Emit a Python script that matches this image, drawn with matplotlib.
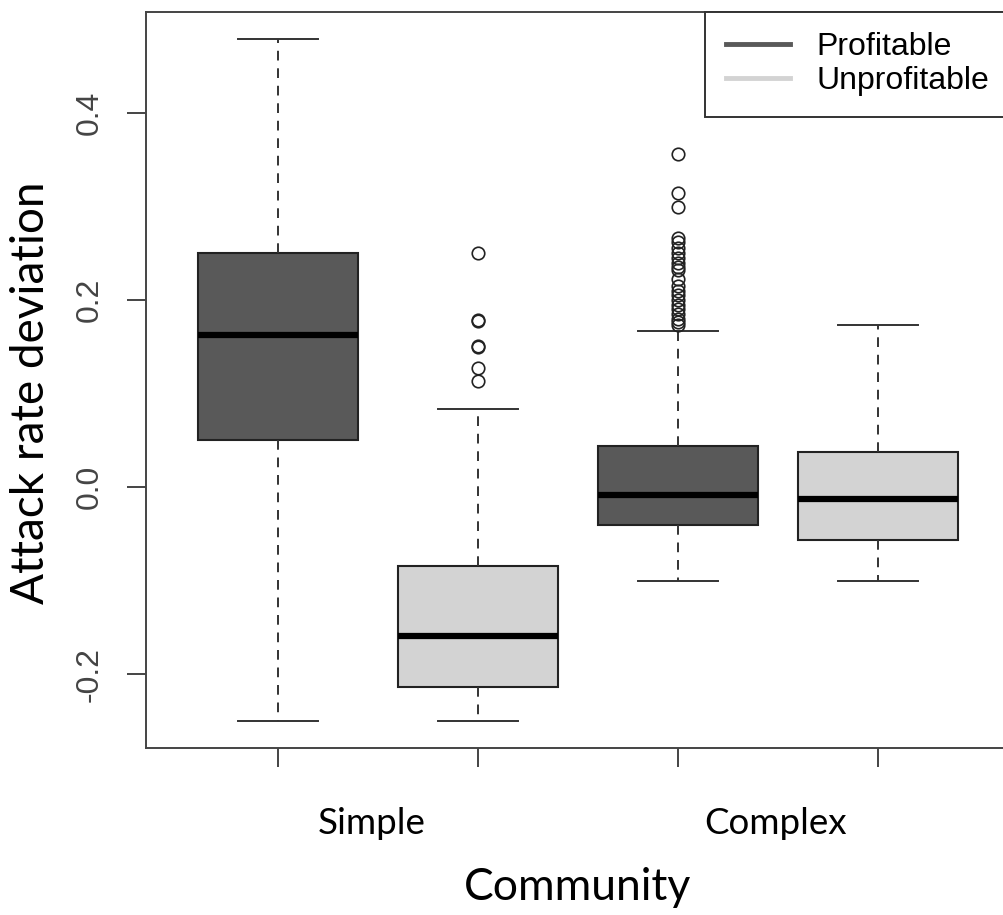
import matplotlib
matplotlib.use("Agg")
import matplotlib.pyplot as plt
from matplotlib.lines import Line2D
from matplotlib.transforms import blended_transform_factory

## Valores (estatísticas de cada caixa)
groups = ["Simple", "Complex"]
series = ["Profitable", "Unprofitable"]
box_colors = ["#595959", "#d3d3d3"]

med = [0.163, -0.159, -0.009, -0.013]
q1 = [0.050, -0.214, -0.041, -0.057]
q3 = [0.250, -0.084, 0.044, 0.037]
whislo = [-0.250, -0.250, -0.100, -0.100]
whishi = [0.479, 0.084, 0.167, 0.173]
fliers = [
    [],
    [0.250, 0.179, 0.178, 0.151, 0.150, 0.127, 0.113],
    [0.356, 0.314, 0.299, 0.266, 0.262, 0.256, 0.250, 0.245, 0.240, 0.235,
     0.232, 0.222, 0.215, 0.210, 0.205, 0.200, 0.195, 0.190, 0.185, 0.180,
     0.176, 0.173],
    [],
]

stats = []
for i in range(4):
    stats.append(dict(med=med[i], q1=q1[i], q3=q3[i], whislo=whislo[i],
                      whishi=whishi[i], fliers=fliers[i]))

fig = plt.figure(figsize=(10.04, 9.15), dpi=100)
ax = fig.add_axes([146/1004, 167/915, (1010-146)/1004, (748-12)/915])

positions = [1, 2, 3, 4]
bp = ax.bxp(stats, positions=positions, widths=0.8, patch_artist=True,
            showfliers=True,
            boxprops=dict(edgecolor="#222222", linewidth=1.5),
            medianprops=dict(color="black", linewidth=4.5, solid_capstyle="butt"),
            whiskerprops=dict(color="#333333", linewidth=1.4, linestyle=(0, (5, 4))),
            capprops=dict(color="#333333", linewidth=1.4),
            capwidths=0.4,
            flierprops=dict(marker="o", markerfacecolor="none",
                            markeredgecolor="#222222", markersize=9,
                            markeredgewidth=1.2))
for k, patch in enumerate(bp["boxes"]):
    patch.set_facecolor(box_colors[k % 2])

ax.set_xlim(0.34, 4.66)
ax.set_ylim(-0.279, 0.508)

tick_font = "Liberation Sans"
ax.set_yticks([-0.2, 0.0, 0.2, 0.4])
ax.set_yticklabels(["-0.2", "0.0", "0.2", "0.4"], rotation=90, va="center",
                   family=tick_font, fontsize=23, color="#444444")
ax.set_xticks(positions)
ax.set_xticklabels(["", "", "", ""])
ax.tick_params(axis="both", length=14, width=1.4, color="#444444", pad=16)

# nomes dos grupos entre cada par de caixas
trans = blended_transform_factory(ax.transData, fig.transFigure)
for xpos, g in zip([1.47, 3.49], groups):
    ax.text(xpos, 1 - 823/915, g, transform=trans, ha="center", va="center",
            family="Lato", fontsize=26.5)

ax.set_xlabel("Community", family="Lato", fontsize=32, labelpad=56)
ax.set_ylabel("Attack rate deviation", family="Lato", fontsize=33, labelpad=16)
ax.yaxis.label.set_y(0.482)

for s in ax.spines.values():
    s.set_color("#444444")
    s.set_linewidth(1.4)

handles = [Line2D([0], [0], color=box_colors[0], lw=3.5),
           Line2D([0], [0], color=box_colors[1], lw=3.5)]
leg = ax.legend(handles, series, loc="upper right", bbox_to_anchor=(1, 1),
                borderaxespad=0, fancybox=False, framealpha=1,
                edgecolor="#333333", prop=dict(family=tick_font, size=23),
                handlelength=2.0, handletextpad=0.85, borderpad=0.64,
                labelspacing=0.12)
leg.get_frame().set_linewidth(1.4)

fig.savefig("out.png", dpi=100)
